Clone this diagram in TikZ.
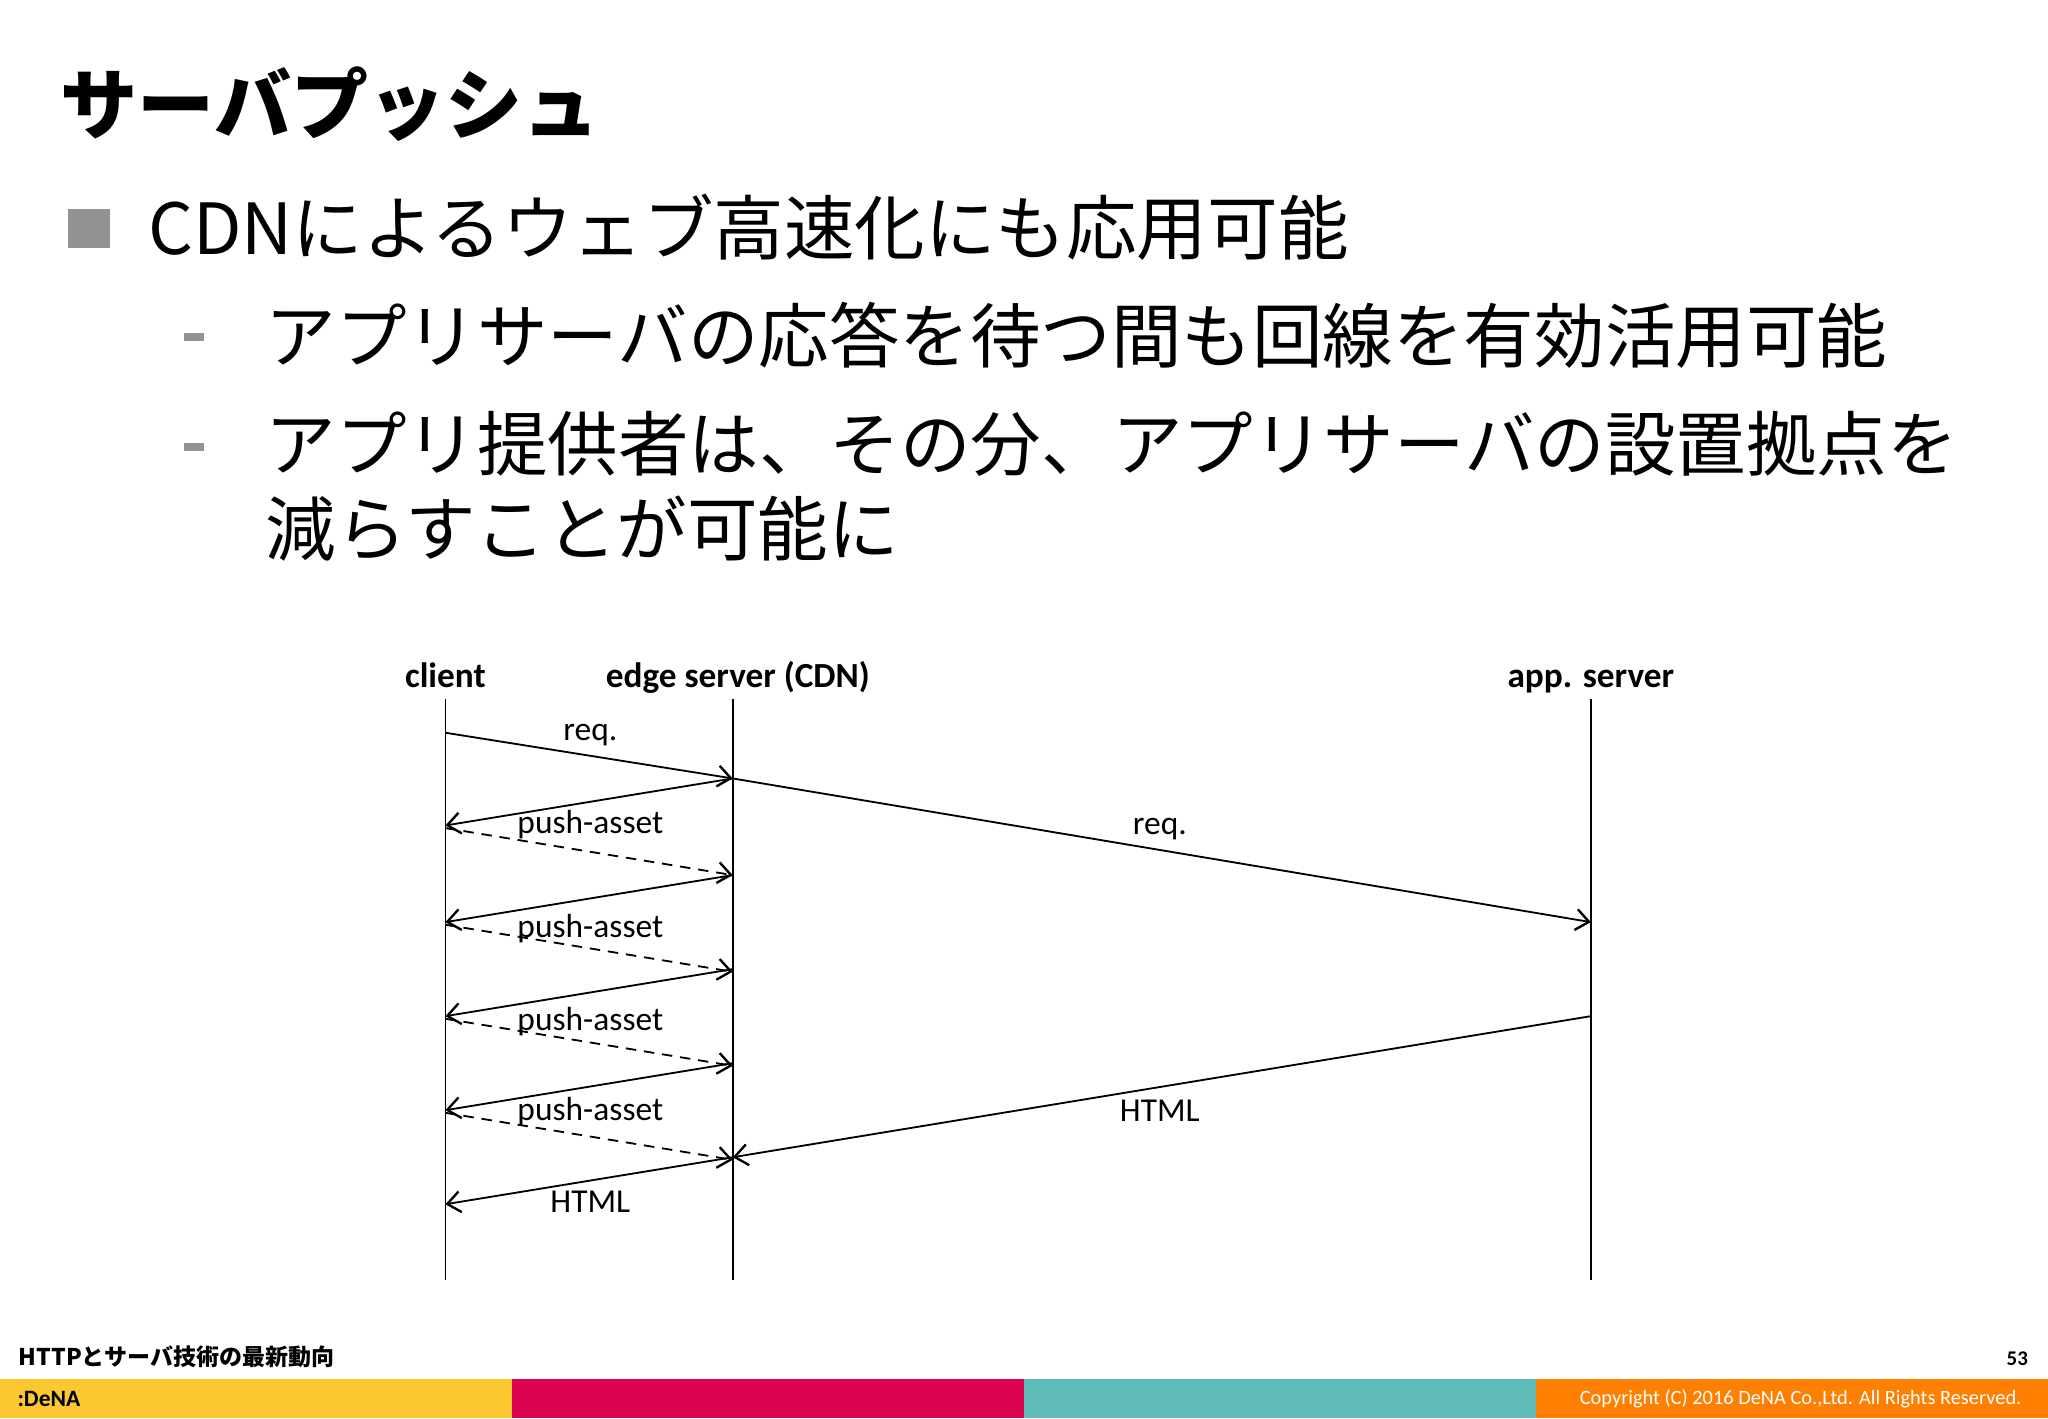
\documentclass[tikz,border=0pt]{standalone}
\usepackage{fontspec}
\setmainfont{Carlito}
\newfontfamily\jp{Noto Sans CJK JP}
\usetikzlibrary{arrows.meta}
\begin{document}
\begin{tikzpicture}[x=0.5pt,y=-0.5pt,
  msg/.style={line width=0.7pt,-{Straight Barb[length=5pt,width=8pt,line width=0.9pt]}},
  dmsg/.style={msg,dash pattern=on 4pt off 3pt},
  life/.style={line width=0.6pt},
  hdr/.style={font=\fontsize{13.5}{15}\selectfont\bfseries,anchor=base,inner sep=0},
  lbl/.style={font=\fontsize{12.8}{14}\selectfont,anchor=base,inner sep=0},
  body/.style={font=\jp\fontsize{27}{32}\selectfont,anchor=west,inner sep=0}]
\useasboundingbox (0,0) rectangle (1568,1086);
% title
\node[font=\jp\bfseries\fontsize{29.5}{34}\selectfont,anchor=west,inner sep=0] (title) at (46,80) {サーバプッシュ};
\fill[gray!85] (52,160) rectangle (84,190);
\node[body] (b1) at (113,174) {CDNによるウェブ高速化にも応用可能};
\fill[gray!85] (141,255) rectangle (156,261);
\fill[gray!85] (141,339) rectangle (156,345);
\node[body] (b2) at (203,257) {アプリサーバの応答を待つ間も回線を有効活用可能};
\node[body] (b3) at (203,340) {アプリ提供者は、その分、アプリサーバの設置拠点を};
\node[body] (b4) at (203,405) {減らすことが可能に};
% headers
\node[hdr] (hc) at (341,526) {client};
\node[hdr] (he) at (565,526) {edge server (CDN)};
\node[hdr] (ha) at (1218,526) {app. server};
\coordinate (ct) at (341,535); \coordinate (cb) at (341,980);
\coordinate (et) at (561,535); \coordinate (eb) at (561,980);
\coordinate (at) at (1218,535); \coordinate (ab) at (1218,980);
\draw[life] (ct) -- (cb); \draw[life] (et) -- (eb); \draw[life] (at) -- (ab);
% points
\coordinate (c0) at (341,561);
\coordinate (e0) at (561,596);
\coordinate (a0) at (1218,706);
\coordinate (a1) at (1218,778);
\draw[msg] (c0) -- (e0);
\draw[msg] (e0) -- (a0);
\node[lbl] (l0) at (452,567) {req.};
\node[lbl] (l1) at (888,639) {req.};
\foreach \i/\ly in {0/638,1/718,2/789,3/858}{
  \pgfmathsetmacro{\ys}{{596,670,742,814}[\i]}
  \coordinate (ps\i) at (561,\ys);
  \coordinate (pc\i) at (341,\ys+36);
  \coordinate (dc\i) at (341,\ys+38);
  \coordinate (de\i) at (561,\ys+74);
  \draw[msg] (ps\i) -- (pc\i);
  \draw[dmsg] (dc\i) -- (de\i);
  \node[lbl] (pl\i) at (452,\ly) {push-asset};
}
\coordinate (e5) at (561,886);
\coordinate (c5) at (341,922);
\draw[msg] (e5) -- (c5);
\node[lbl] (l2) at (452,928) {HTML};
\draw[msg] (a1) -- (e5);
\node[lbl] (l3) at (888,859) {HTML};
% footer
\node[font=\jp\bfseries\fontsize{8.8}{10}\selectfont,anchor=west,inner sep=0] (ft) at (14,1039) {HTTPとサーバ技術の最新動向};
\node[font=\bfseries\fontsize{8}{9}\selectfont,anchor=east,inner sep=0] (pg) at (1553,1040) {53};
\fill[fill={rgb,255:red,253;green,200;blue,47}] (0,1056) rectangle (392,1086);
\fill[fill={rgb,255:red,220;green,4;blue,81}] (392,1056) rectangle (784,1086);
\fill[fill={rgb,255:red,94;green,187;blue,184}] (784,1056) rectangle (1176,1086);
\fill[fill={rgb,255:red,255;green,127;blue,0}] (1176,1056) rectangle (1568,1086);
\node[font=\bfseries\fontsize{9}{10}\selectfont,anchor=west,inner sep=0] (logo) at (13,1071) {:DeNA};
\node[font=\fontsize{7.8}{9}\selectfont,text=white,anchor=east,inner sep=0] (cp) at (1548,1071) {Copyright (C) 2016 DeNA Co.,Ltd. All Rights Reserved.};
\end{tikzpicture}
\end{document}
